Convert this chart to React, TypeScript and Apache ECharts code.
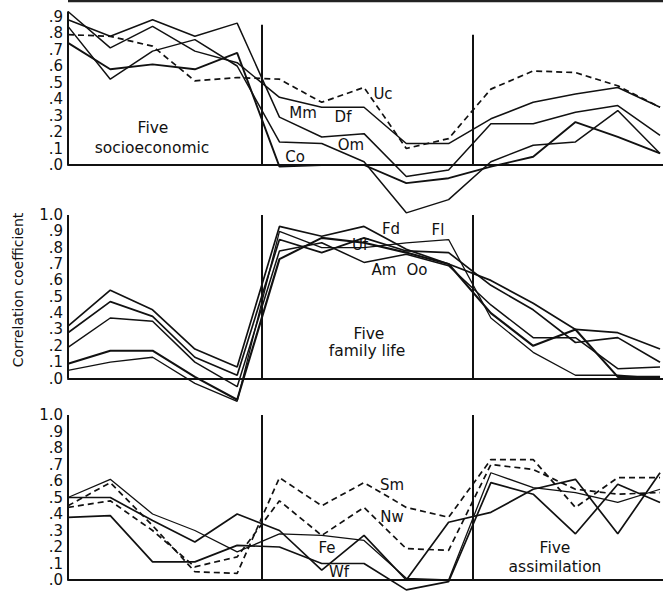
import React, { useEffect, useRef } from "react";
import * as echarts from "echarts";

// 15 measurement positions (three groups of five variables)
const POSITIONS = [0, 1, 2, 3, 4, 5, 6, 7, 8, 9, 10, 11, 12, 13, 14];
const Y_TICKS = [0, 0.1, 0.2, 0.3, 0.4, 0.5, 0.6, 0.7, 0.8, 0.9, 1.0];

// Panel 1 — five socioeconomic
const Mm = [0.93, 0.71, 0.84, 0.69, 0.62, 0.41, 0.35, 0.35, 0.13, 0.13, 0.28, 0.38, 0.43, 0.47, 0.35];
const Df = [0.88, 0.78, 0.88, 0.78, 0.86, 0.29, 0.17, 0.19, -0.07, -0.03, 0.25, 0.25, 0.32, 0.36, 0.18];
const Co = [0.74, 0.58, 0.61, 0.58, 0.68, -0.01, 0.0, 0.0, -0.11, -0.08, -0.01, 0.05, 0.26, 0.17, 0.07];
const Om = [0.84, 0.52, 0.69, 0.76, 0.6, 0.14, 0.13, 0.02, -0.29, -0.21, 0.02, 0.12, 0.14, 0.33, 0.07];
const Uc = [0.79, 0.78, 0.72, 0.51, 0.53, 0.52, 0.38, 0.47, 0.1, 0.16, 0.46, 0.57, 0.56, 0.48, 0.35];

// Panel 2 — five family life
const Fd = [0.32, 0.54, 0.42, 0.18, 0.07, 0.93, 0.87, 0.93, 0.79, 0.7, 0.6, 0.46, 0.3, 0.28, 0.18];
const Fl = [0.05, 0.1, 0.13, -0.03, -0.14, 0.9, 0.8, 0.8, 0.83, 0.85, 0.37, 0.16, 0.02, 0.02, 0.0];
const Uf = [0.28, 0.47, 0.38, 0.13, 0.02, 0.85, 0.77, 0.86, 0.78, 0.77, 0.57, 0.42, 0.22, 0.25, 0.1];
const Am = [0.19, 0.37, 0.35, 0.1, -0.05, 0.78, 0.83, 0.71, 0.76, 0.69, 0.45, 0.25, 0.25, 0.06, 0.07];
const Oo = [0.09, 0.17, 0.17, 0.01, -0.13, 0.73, 0.86, 0.83, 0.77, 0.7, 0.4, 0.2, 0.3, 0.01, 0.01];

// Panel 3 — five assimilation
const Sm = [0.45, 0.59, 0.33, 0.05, 0.04, 0.62, 0.45, 0.59, 0.44, 0.38, 0.73, 0.73, 0.44, 0.62, 0.62];
const Nw = [0.44, 0.48, 0.3, 0.08, 0.14, 0.48, 0.27, 0.44, 0.19, 0.18, 0.7, 0.67, 0.55, 0.52, 0.53];
const Fe = [0.5, 0.61, 0.4, 0.3, 0.17, 0.28, 0.27, 0.24, 0.01, 0.0, 0.65, 0.56, 0.53, 0.47, 0.55];
const Wf = [0.38, 0.39, 0.11, 0.11, 0.21, 0.2, 0.1, 0.1, -0.06, -0.01, 0.59, 0.52, 0.28, 0.58, 0.47];
const Xa = [0.5, 0.5, 0.36, 0.23, 0.4, 0.3, 0.06, 0.27, 0.0, 0.35, 0.41, 0.55, 0.61, 0.28, 0.65];

const DIV1 = 4.57;
const DIV2 = 9.58;

const INK = "#111";
const FONT = "DejaVu Sans";

function line(data: number[], grid: number, dashed = false, width = 1.5) {
  return {
    type: "line",
    xAxisIndex: grid,
    yAxisIndex: grid,
    data: POSITIONS.map((p, i) => [p, data[i]]),
    symbol: "none",
    clip: false,
    silent: true,
    lineStyle: {
      color: INK,
      width: dashed ? 1.7 : width,
      type: dashed ? [6, 4] : "solid",
    },
  };
}

function frame(grid: number, axisTop: number, d1Top: number, d2Top: number) {
  const seg = (x: number, top: number) => [
    { coord: [x, 0] },
    { coord: [x, top] },
  ];
  return {
    type: "line",
    xAxisIndex: grid,
    yAxisIndex: grid,
    data: [],
    silent: true,
    markLine: {
      silent: true,
      symbol: ["none", "none"],
      label: { show: false },
      lineStyle: { color: INK, width: 2, type: "solid" },
      data: [seg(0, axisTop), seg(DIV1, d1Top), seg(DIV2, d2Top)],
    },
  };
}

const fmt = (v: number) => {
  if (v >= 0.999) return "1.0";
  if (v < 0.001) return ".0";
  return "." + Math.round(v * 10);
};

function yAxis(grid: number, showMax: boolean) {
  return {
    type: "value",
    gridIndex: grid,
    min: Y_TICKS[0],
    max: Y_TICKS[Y_TICKS.length - 1],
    interval: 0.1,
    axisLine: { show: false },
    axisTick: { show: false },
    splitLine: { show: false },
    axisLabel: {
      show: true,
      showMaxLabel: showMax,
      formatter: fmt,
      color: INK,
      fontFamily: FONT,
      fontSize: 15,
      margin: 5,
    },
  };
}

function xAxis(grid: number) {
  return {
    type: "value",
    gridIndex: grid,
    min: 0,
    max: 14.07,
    axisLine: { show: true, onZero: false, lineStyle: { color: INK, width: 2 } },
    axisTick: { show: false },
    axisLabel: { show: false },
    splitLine: { show: false },
  };
}

function txt(text: string, x: number, y: number, size = 15) {
  return {
    type: "text",
    x,
    y,
    silent: true,
    style: {
      text,
      fill: INK,
      font: `${size}px "${FONT}"`,
      align: "center",
      verticalAlign: "middle",
    },
  };
}

export default function App() {
  const ref = useRef<HTMLDivElement>(null);
  useEffect(() => {
    if (!ref.current) return;
    const chart = echarts.init(ref.current, undefined, { renderer: "svg" });
    chart.setOption({
      animation: false,
      backgroundColor: "#fff",
      grid: [
        { left: 68, right: 0, top: -2, height: 167 },
        { left: 68, right: 0, top: 215, height: 163.5 },
        { left: 68, right: 0, top: 415, height: 165 },
      ],
      xAxis: [xAxis(0), xAxis(1), xAxis(2)],
      yAxis: [yAxis(0, false), yAxis(1, true), yAxis(2, true)],
      series: [
        frame(0, 0.93, 0.85, 0.79),
        frame(1, 1.0, 1.0, 1.0),
        frame(2, 1.0, 1.0, 1.0),
        line(Mm, 0),
        line(Df, 0),
        line(Co, 0, false, 1.9),
        line(Om, 0),
        line(Uc, 0, true),
        line(Fd, 1, false, 1.7),
        line(Fl, 1, false, 1.3),
        line(Uf, 1, false, 1.7),
        line(Am, 1, false, 1.5),
        line(Oo, 1, false, 2.1),
        line(Sm, 2, true),
        line(Nw, 2, true),
        line(Fe, 2, false, 1.3),
        line(Wf, 2, false, 1.7),
        line(Xa, 2, false, 1.7),
      ],
      graphic: [
        {
          type: "line",
          silent: true,
          shape: { x1: 68, y1: 1, x2: 663, y2: 1 },
          style: { stroke: "#222", lineWidth: 2.5 },
        },
        {
          type: "text",
          x: 18,
          y: 290,
          rotation: Math.PI / 2,
          silent: true,
          style: {
            text: "Correlation coefficient",
            fill: INK,
            font: `14px "${FONT}"`,
            align: "center",
            verticalAlign: "middle",
          },
        },
        txt("Five", 153, 128, 15.5),
        txt("socioeconomic", 152, 148, 15.5),
        txt("Mm", 303, 113),
        txt("Df", 343, 117),
        txt("Uc", 383, 94),
        txt("Co", 295, 157),
        txt("Om", 351, 145),
        txt("Fd", 391, 229),
        txt("Fl", 438, 230),
        txt("Uf", 360, 245),
        txt("Am", 384, 270),
        txt("Oo", 417, 270),
        txt("Five", 369, 334, 15.5),
        txt("family life", 367, 351, 15.5),
        txt("Sm", 392, 485),
        txt("Nw", 392, 517),
        txt("Fe", 327, 548),
        txt("Wf", 339, 572),
        txt("Five", 555, 548, 15.5),
        txt("assimilation", 555, 567, 15.5),
      ],
    });
    return () => chart.dispose();
  }, []);
  return (
    <div
      ref={ref}
      style={{ position: "fixed", left: 0, top: 0, width: 663, height: 592, background: "#fff" }}
    />
  );
}
